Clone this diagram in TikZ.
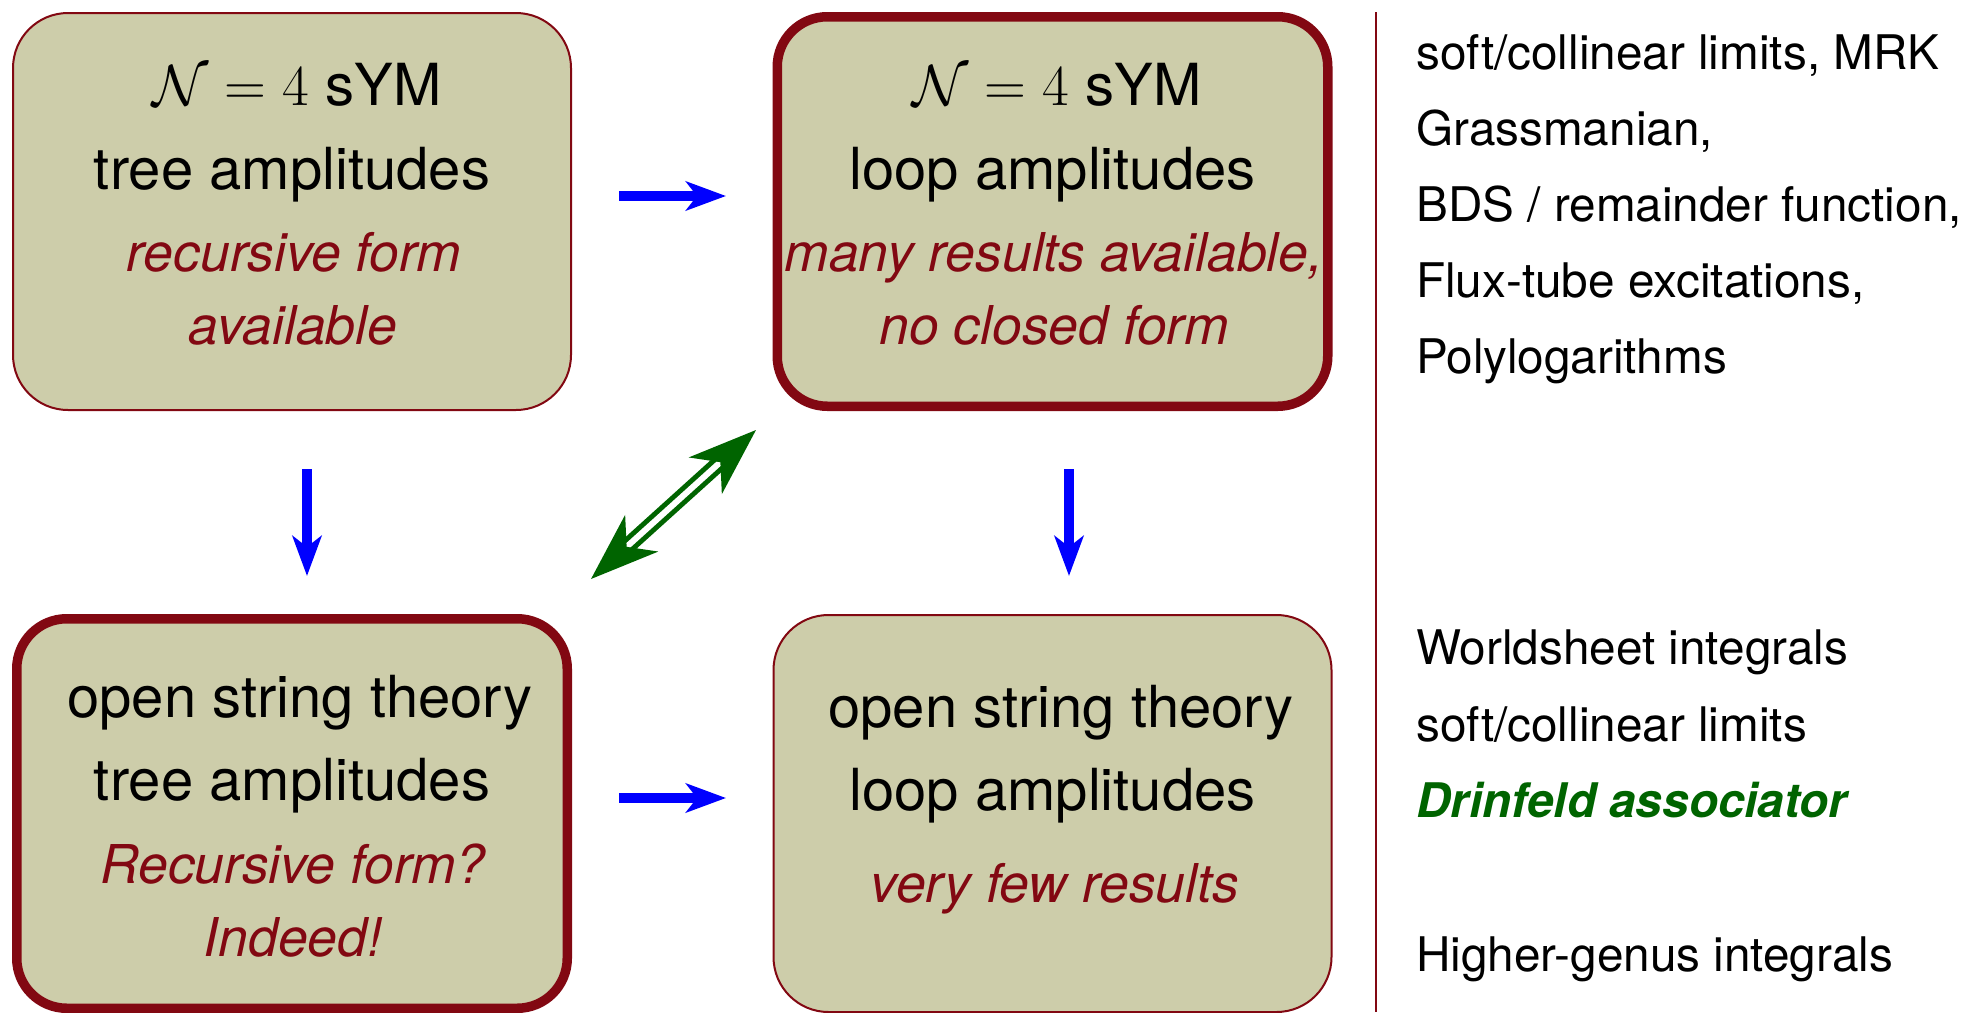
\RequirePackage{fix-cm}
\documentclass[tikz,border=0pt]{standalone}
\usepackage[no-math]{fontspec}
\setmainfont{TeX Gyre Heros}
\usetikzlibrary{arrows.meta}

\definecolor{boxfill}{RGB}{205,205,170}
\definecolor{darkred}{RGB}{130,8,18}
\definecolor{darkgreen}{RGB}{0,100,0}

\begin{document}
\begin{tikzpicture}[x=1pt,y=-1pt,
  box/.style={draw=darkred, fill=boxfill, line width=2pt, rounded corners=55pt,
    minimum width=558pt, minimum height=397pt, inner sep=0pt, outer sep=0pt},
  boldbox/.style={box, line width=9.5pt, rounded corners=50pt,
    minimum width=550.5pt, minimum height=389.5pt},
  mainline/.style={font=\fontsize{58}{70}\selectfont, anchor=base, inner sep=0pt},
  noteline/.style={font=\fontsize{53.5}{64}\selectfont\itshape, text=darkred,
    anchor=base, inner sep=0pt},
  sideline/.style={font=\fontsize{47.7}{57}\selectfont, anchor=base west, inner sep=0pt},
  flow/.style={draw=blue, line width=10.5pt,
    -{Stealth[length=40pt, width=29pt, inset=11pt]}},
  link/.style={draw=darkgreen, line width=5pt, double=white, double distance=6pt,
    {Stealth[length=68pt, width=49pt, inset=20pt]}-{Stealth[length=68pt, width=49pt, inset=20pt]}}
]
\useasboundingbox (0,0) rectangle (1965,1012);

% the four boxes
\node[box]     (tl) at (292,211.5) {};
\node[boldbox] (tr) at (1052.5,211.5) {};
\node[boldbox] (bl) at (292,813.5) {};
\node[box]     (br) at (1052.5,813.5) {};

% field theory, tree level
\node[mainline] (tl1) at (297,105) {$\mathcal{N}=4$ sYM};
\node[mainline] (tl2) at (292,189) {tree amplitudes};
\node[noteline] (tl3) at (294,271) {recursive form};
\node[noteline] (tl4) at (293,344) {available};

% field theory, loop level
\node[mainline] (tr1) at (1057,105) {$\mathcal{N}=4$ sYM};
\node[mainline] (tr2) at (1052.5,189) {loop amplitudes};
\node[noteline] (tr3) at (1054,271) {many results available,};
\node[noteline] (tr4) at (1054,344) {no closed form};

% string theory, tree level
\node[mainline] (bl1) at (300,717) {open string theory};
\node[mainline] (bl2) at (292,800) {tree amplitudes};
\node[noteline] (bl3) at (293,883) {Recursive form?};
\node[noteline] (bl4) at (293,956) {Indeed!};

% string theory, loop level
\node[mainline] (br1) at (1061,727) {open string theory};
\node[mainline] (br2) at (1052.5,810) {loop amplitudes};
\node[noteline] (br3) at (1055,902) {very few results};

% arrow end points
\coordinate (h1a) at (619,196);  \coordinate (h1b) at (726,196);
\coordinate (h2a) at (619,798);  \coordinate (h2b) at (726,798);
\coordinate (v1a) at (307,469);  \coordinate (v1b) at (307,576);
\coordinate (v2a) at (1069,469); \coordinate (v2b) at (1069,576);
\coordinate (ga) at (591,579);   \coordinate (gb) at (756,430);

\draw[flow] (h1a) -- (h1b);
\draw[flow] (h2a) -- (h2b);
\draw[flow] (v1a) -- (v1b);
\draw[flow] (v2a) -- (v2b);
\draw[link] (ga) -- (gb);

% separator and keyword lists
\coordinate (sepa) at (1376,12);
\coordinate (sepb) at (1376,1012);
\draw[darkred, line width=2pt] (sepa) -- (sepb);

\node[sideline] (s1) at (1416,69)  {soft/collinear limits, MRK};
\node[sideline] (s2) at (1416,145) {Grassmanian,};
\node[sideline] (s3) at (1416,221) {BDS / remainder function,};
\node[sideline] (s4) at (1416,297) {Flux-tube excitations,};
\node[sideline] (s5) at (1416,373) {Polylogarithms};

\node[sideline] (w1) at (1416,664) {Worldsheet integrals};
\node[sideline] (w2) at (1416,741) {soft/collinear limits};
\node[sideline, text=darkgreen, font=\fontsize{47.7}{57}\selectfont\bfseries\itshape]
  (w3) at (1416,817) {Drinfeld associator};
\node[sideline] (w4) at (1416,971) {Higher-genus integrals};
\end{tikzpicture}
\end{document}
